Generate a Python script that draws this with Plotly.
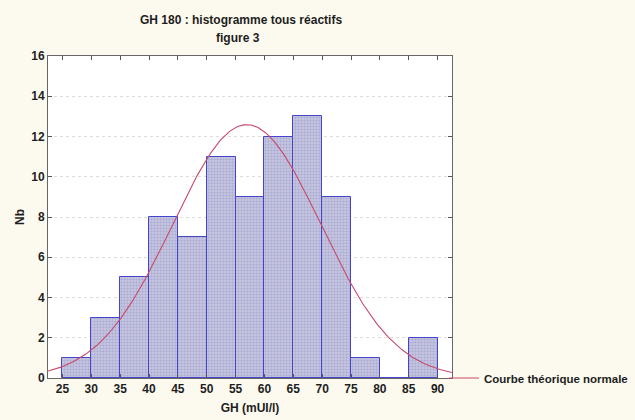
import numpy as np
import plotly.graph_objects as go

# Data
bin_edges = [25, 30, 35, 40, 45, 50, 55, 60, 65, 70, 75, 80, 85, 90]
counts = [1, 3, 5, 8, 7, 11, 9, 12, 13, 9, 1, 0, 2]
x_ticks = [25, 30, 35, 40, 45, 50, 55, 60, 65, 70, 75, 80, 85, 90]
y_ticks = [0, 2, 4, 6, 8, 10, 12, 14, 16]
title_lines = ["GH 180 : histogramme tous réactifs", "figure 3"]

mids = [(a + b) / 2 for a, b in zip(bin_edges[:-1], bin_edges[1:])]
width = bin_edges[1] - bin_edges[0]
n = sum(counts)
mu = sum(m * c for m, c in zip(mids, counts)) / n
sd = (sum(c * (m - mu) ** 2 for m, c in zip(mids, counts)) / n) ** 0.5
xc = np.linspace(22.5, 92.5, 300)
yc = n * width / (sd * np.sqrt(2 * np.pi)) * np.exp(-0.5 * ((xc - mu) / sd) ** 2)

font = "Liberation Sans, Arial, sans-serif"
txt = dict(family=font, size=12, color="#1e1e1e", weight="bold")
leg_txt = dict(family=font, size=11.5, color="#1e1e1e", weight="bold")

fig = go.Figure()
fig.add_trace(go.Bar(
    x=mids, y=counts, width=width, showlegend=False,
    marker=dict(color="#bcbcda", line=dict(color="#4545cc", width=1),
                pattern=dict(shape=".", fgcolor="#8a8ac2", bgcolor="#c6c6e0", size=3, solidity=0.4)),
))
fig.add_trace(go.Scatter(
    x=xc, y=yc, mode="lines", name="Courbe théorique normale",
    line=dict(color="#c84a6a", width=1.1),
))

fig.add_annotation(text=title_lines[0], xref="paper", yref="paper", x=0.478, y=1.112,
                   xanchor="center", yanchor="middle", showarrow=False, font=txt)
fig.add_annotation(text=title_lines[1], xref="paper", yref="paper", x=0.47, y=1.056,
                   xanchor="center", yanchor="middle", showarrow=False, font=txt)

fig.update_layout(
    width=635, height=420,
    paper_bgcolor="#fcfaef", plot_bgcolor="#ffffff",
    margin=dict(l=48, r=183, t=56, b=42, autoexpand=False),
    font=txt,
    bargap=0,
    legend=dict(xref="container", yref="container", x=444 / 635, y=42 / 420,
                xanchor="left", yanchor="middle", bgcolor="rgba(0,0,0,0)",
                font=leg_txt, borderwidth=0),
    xaxis=dict(range=[22.5, 92.5], tickvals=x_ticks, ticks="inside", ticklen=4, tickcolor="#555",
               showline=True, linecolor="#666", linewidth=1, mirror="ticks", showgrid=False, zeroline=False,
               automargin=False,
               title=dict(text="GH (mUI/l)", standoff=8, font=txt),
               tickfont=txt),
    yaxis=dict(range=[0, 16], tickvals=y_ticks, ticks="inside", ticklen=4, tickcolor="#555",
               showline=True, linecolor="#666", linewidth=1, mirror="ticks",
               showgrid=True, gridcolor="#dcdcdc", griddash="dot", gridwidth=1, zeroline=False,
               automargin=False,
               title=dict(text="Nb", standoff=4, font=txt),
               tickfont=txt),
)

fig.write_html("out.html", config={"displayModeBar": False},
               post_script="document.body.style.margin='0';document.body.style.overflow='hidden';")
